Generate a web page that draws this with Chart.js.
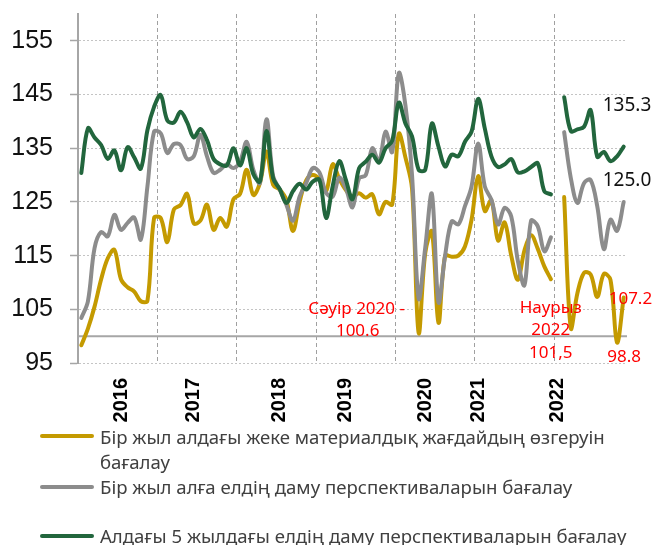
<!DOCTYPE html>
<html>
<head>
<meta charset="utf-8">
<script src="https://cdn.jsdelivr.net/npm/chart.js@4.4.1/dist/chart.umd.min.js"></script>
<style>
  body { margin: 0; background: #fff; }
  #wrap { position: relative; width: 652px; height: 545px; overflow: hidden; }
  #wrap canvas { position: absolute; left: 0; top: 0; }
  .lg-line { position: absolute; left: 40px; width: 54px; height: 4px; border-radius: 2px; }
  .lg-text { position: absolute; left: 100px; font-family: "Noto Sans", sans-serif; font-size: 18.6px; color: #404040; line-height: 25px; white-space: nowrap; }
</style>
</head>
<body>
<div id="wrap">
  <canvas id="chart" width="652" height="545"></canvas>
  <div class="lg-line" style="top: 434px; background: #C49A00;"></div>
  <div class="lg-text" style="top: 424px;">Бір жыл алдағы жеке материалдық жағдайдың өзгеруін<br>бағалау</div>
  <div class="lg-line" style="top: 485px; background: #8C8C8C;"></div>
  <div class="lg-text" style="top: 474px;">Бір жыл алға елдің даму перспективаларын бағалау</div>
  <div class="lg-line" style="top: 534px; background: #22663D;"></div>
  <div class="lg-text" style="top: 523px;">Алдағы 5 жылдағы елдің даму перспективаларын бағалау</div>
</div>
<script>
// months Jan 2016 .. Nov 2022 (Jan 2022 has no data)
const months = [
  '2016-01','2016-02','2016-03','2016-04','2016-05','2016-06','2016-07','2016-08','2016-09','2016-10','2016-11','2016-12',
  '2017-01','2017-02','2017-03','2017-04','2017-05','2017-06','2017-07','2017-08','2017-09','2017-10','2017-11','2017-12',
  '2018-01','2018-02','2018-03','2018-04','2018-05','2018-06','2018-07','2018-08','2018-09','2018-10','2018-11','2018-12',
  '2019-01','2019-02','2019-03','2019-04','2019-05','2019-06','2019-07','2019-08','2019-09','2019-10','2019-11','2019-12',
  '2020-01','2020-02','2020-03','2020-04','2020-05','2020-06','2020-07','2020-08','2020-09','2020-10','2020-11','2020-12',
  '2021-01','2021-02','2021-03','2021-04','2021-05','2021-06','2021-07','2021-08','2021-09','2021-10','2021-11','2021-12',
  '2022-01','2022-02','2022-03','2022-04','2022-05','2022-06','2022-07','2022-08','2022-09','2022-10','2022-11'
];

// where the year labels sit on the axis
const yearTicks = {
  '2016-07': '2016', '2017-06': '2017', '2018-07': '2018', '2019-05': '2019',
  '2020-05': '2020', '2021-01': '2021', '2022-01': '2022'
};

const yTicks = [95, 105, 115, 125, 135, 145, 155];

// Бір жыл алдағы жеке материалдық жағдайдың өзгеруін бағалау
const personal = [
  98.3, 101.4, 105.5, 110.6, 114.5, 116.1, 110.6, 109.1, 108.3, 106.5, 106.6, 122.0,
  122.0, 117.5, 123.6, 124.4, 126.5, 121.0, 121.5, 124.5, 119.8, 122.0, 120.4, 125.5,
  126.5, 131.0, 126.3, 128.5, 134.4, 128.2, 127.3, 125.4, 119.6, 125.0, 129.0, 130.0,
  129.2, 127.0, 132.0, 129.3, 127.2, 126.0, 126.6, 125.8, 126.4, 122.7, 125.0, 124.5,
  137.7, 133.3, 127.5, 100.6, 115.5, 119.5, 102.5, 115.0, 114.8, 115.0, 116.7, 121.7,
  129.8, 123.3, 125.3, 117.8, 121.2, 115.0, 110.5, 116.0, 118.8, 116.3, 113.0, 110.6,
  null, 125.9, 101.5, 108.0, 111.8, 111.5, 107.3, 111.6, 110.5, 98.8, 107.2
];

// Бір жыл алға елдің даму перспективаларын бағалау
const country1y = [
  103.4, 106.5, 116.4, 119.4, 118.6, 122.6, 119.8, 121.1, 122.1, 118.0, 127.9, 138.1,
  137.8, 134.1, 135.8, 135.6, 133.0, 133.5, 137.5, 133.5, 130.4, 131.0, 132.0, 131.3,
  132.5, 136.2, 131.0, 128.5, 140.4, 129.8, 127.3, 124.5, 121.5, 126.0, 128.5, 131.3,
  130.5, 126.7, 126.0, 129.5, 127.5, 124.0, 129.4, 130.0, 135.0, 132.5, 138.1, 134.3,
  149.0, 143.0, 130.0, 107.0, 116.5, 126.5, 106.3, 115.0, 121.4, 120.8, 124.2, 127.9,
  135.9, 127.9, 125.4, 120.8, 123.9, 122.3, 114.0, 109.5, 121.5, 120.5, 115.8, 118.4,
  null, 138.0, 129.5, 124.8, 128.5, 129.1, 124.2, 116.2, 121.7, 119.6, 125.0
];

// Алдағы 5 жылдағы елдің даму перспективаларын бағалау
const country5y = [
  130.4, 138.7, 137.0, 135.6, 133.0, 134.6, 130.9, 135.2, 133.3, 131.2, 138.4, 142.7,
  144.9, 140.2, 139.8, 141.8, 139.8, 137.0, 138.6, 136.5, 133.0, 132.0, 131.8, 135.0,
  131.8, 135.0, 130.2, 128.8, 138.2, 129.4, 127.4, 124.8, 127.0, 128.4, 127.3, 128.8,
  129.1, 122.0, 127.9, 132.6, 129.1, 125.5, 131.3, 132.5, 133.8, 132.3, 135.0, 136.4,
  143.5, 139.6, 137.2, 131.0, 131.0, 139.6, 135.3, 131.6, 133.8, 133.5, 136.2, 138.1,
  144.2, 138.7, 133.5, 131.5, 132.0, 133.0, 130.5, 130.7, 131.5, 132.2, 127.0, 126.4,
  null, 144.5, 138.2, 138.5, 139.0, 142.1, 133.4, 134.3, 132.6, 133.5, 135.3
];

const GOLD = '#C49A00';
const GREY = '#8C8C8C';
const GREEN = '#22663D';

// axis line at 100 + the value call-outs
const extras = {
  id: 'extras',
  beforeDatasetsDraw(chart) {
    const { ctx, chartArea, scales: { y } } = chart;
    const py = y.getPixelForValue(100);
    ctx.save();
    ctx.strokeStyle = '#A6A6A6';
    ctx.lineWidth = 2;
    ctx.beginPath();
    ctx.moveTo(chartArea.left, py);
    ctx.lineTo(chartArea.right, py);
    ctx.stroke();
    ctx.restore();
  },
  afterDatasetsDraw(chart) {
    const { ctx, scales: { x, y } } = chart;
    const pt = (i, arr) => [x.getPixelForValue(i), y.getPixelForValue(arr[i])];
    const last = months.length - 1;
    ctx.save();
    ctx.textBaseline = 'middle';

    ctx.font = '19px "Noto Sans"';
    ctx.fillStyle = '#111';
    ctx.textAlign = 'left';
    let [px, py] = pt(last, country5y);
    ctx.fillText('135.3', px - 21, py - 41);
    [px, py] = pt(last, country1y);
    ctx.fillText('125.0', px - 21, py - 21);

    ctx.font = '17px "Noto Sans"';
    ctx.fillStyle = '#FF0000';
    [px, py] = pt(last, personal);
    ctx.fillText('107.2', px - 15, py + 2);

    ctx.textAlign = 'center';
    [px, py] = pt(last - 1, personal);
    ctx.fillText('98.8', px + 7, py + 15);

    [px, py] = pt(months.indexOf('2020-04'), personal);
    ctx.fillText('Сәуір 2020 -', px - 62, py - 24);
    ctx.fillText('100.6', px - 61, py - 2);

    [px, py] = pt(months.indexOf('2022-03'), personal);
    ctx.fillText('Наурыз', px - 20, py - 20);
    ctx.fillText('2022', px - 20, py + 2);
    ctx.fillText('101,5', px - 20, py + 25);
    ctx.restore();
  }
};

const line = (label, data, color, order) => ({
  label, data, order,
  borderColor: color,
  backgroundColor: color,
  borderWidth: 4,
  borderCapStyle: 'round',
  borderJoinStyle: 'round',
  tension: 0.35,
  pointRadius: 0,
  spanGaps: false
});

new Chart(document.getElementById('chart'), {
  type: 'line',
  data: {
    labels: months,
    datasets: [
      line('Бір жыл алдағы жеке материалдық жағдайдың өзгеруін бағалау', personal, GOLD, 3),
      line('Бір жыл алға елдің даму перспективаларын бағалау', country1y, GREY, 2),
      line('Алдағы 5 жылдағы елдің даму перспективаларын бағалау', country5y, GREEN, 1)
    ]
  },
  options: {
    responsive: false,
    animation: false,
    layout: { padding: { left: 0, right: 25, top: 14, bottom: 102 } },
    plugins: {
      legend: { display: false },
      tooltip: { enabled: false }
    },
    scales: {
      x: {
        type: 'category',
        offset: true,
        afterFit: (s) => { s.height = 80; s.paddingLeft = 0; s.paddingRight = 0; },
        grid: {
          offset: true,
          drawTicks: false,
          lineWidth: 1,
          color: (c) => (c.index > 0 && c.index % 12 === 0) ? '#A0A0A0' : 'rgba(0,0,0,0)'
        },
        border: { display: false, dash: [4, 3] },
        ticks: {
          autoSkip: false,
          minRotation: 90,
          maxRotation: 90,
          padding: 15,
          color: '#000',
          font: { family: '"Liberation Sans", Arial, sans-serif', size: 20, weight: 'bold' },
          callback: (v, i) => yearTicks[months[i]] || ''
        }
      },
      y: {
        min: 95,
        max: 160,
        afterFit: (s) => { s.width = 78; s.paddingTop = 0; s.paddingBottom = 0; },
        afterBuildTicks: (s) => { s.ticks = yTicks.map(v => ({ value: v })); },
        grid: {
          color: '#C4C4C4',
          lineWidth: 1,
          tickLength: 8,
          tickColor: '#A6A6A6',
          tickWidth: 1.5
        },
        border: { display: true, color: '#A6A6A6', width: 2, dash: [2, 2] },
        ticks: {
          padding: 17,
          color: '#111',
          font: { family: '"Liberation Sans", Arial, sans-serif', size: 25 }
        }
      }
    }
  },
  plugins: [extras]
});
</script>
</body>
</html>
